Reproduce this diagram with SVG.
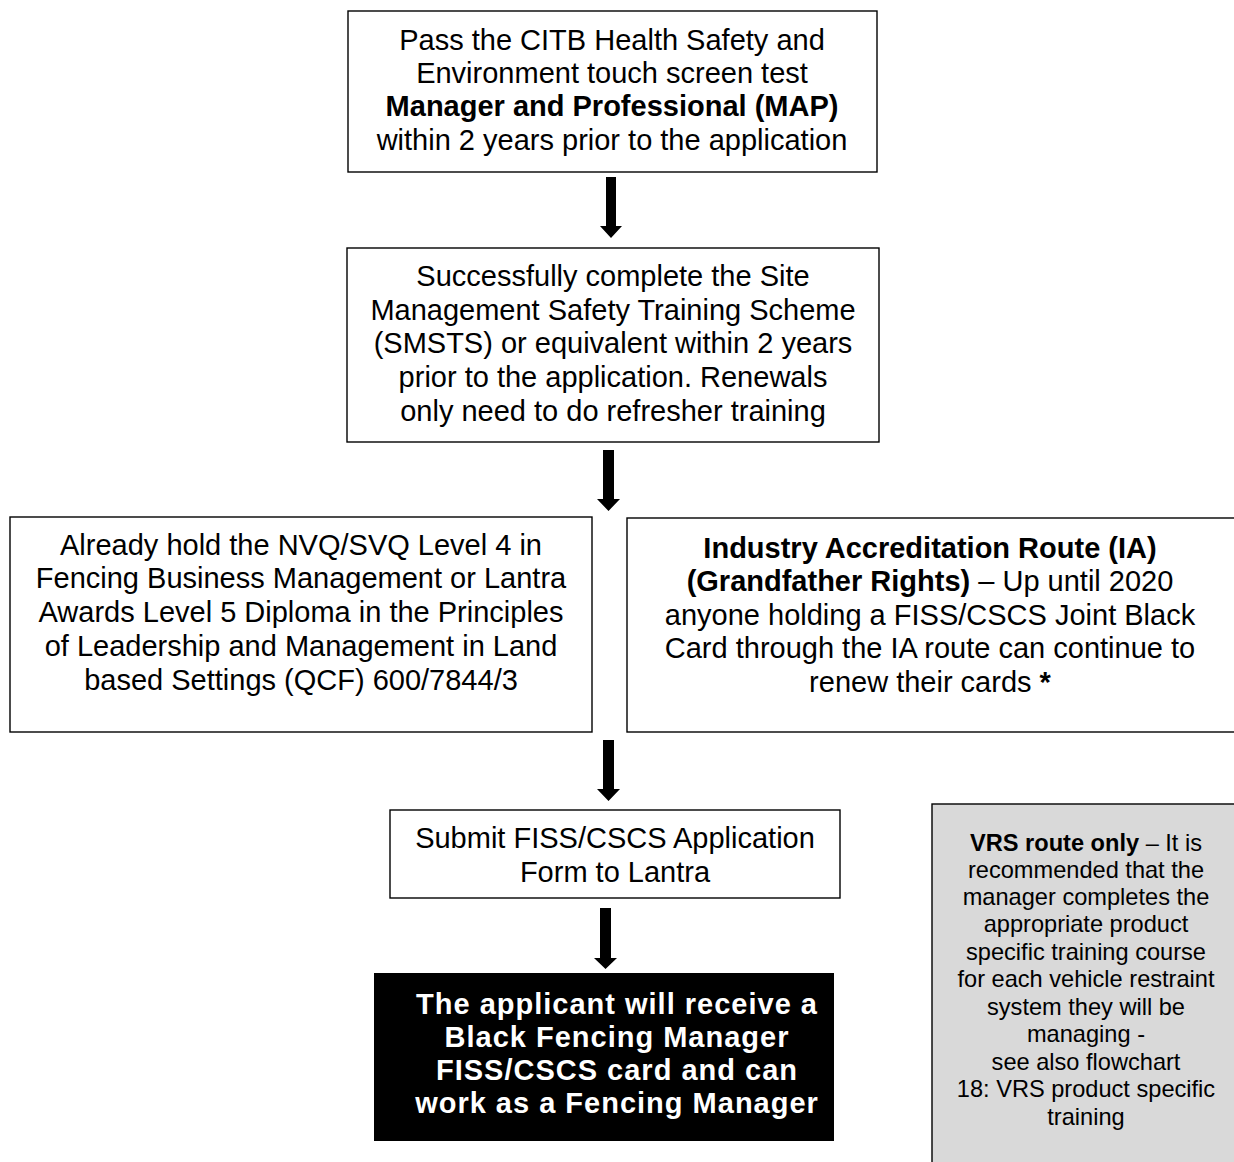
<svg xmlns="http://www.w3.org/2000/svg" width="1234" height="1162" viewBox="0 0 1234 1162">
<style>
.box{fill:#fff;stroke:#000;stroke-width:1.4}
.t{font-family:"Liberation Sans",Arial,sans-serif;font-size:29px;fill:#000;text-anchor:middle}
.w{fill:#fff;font-weight:bold;letter-spacing:1px}
.g{font-size:23.6px}
.b{font-weight:bold}
.arr{fill:#000}
</style>
<rect width="1234" height="1162" fill="#fff"/>
<g id="connectors">
<path class="arr" d="M606 177H616V226H622L611 238L600 226H606Z"/>
<path class="arr" d="M603 450H614V499H620L608.5 511L597 499H603Z"/>
<path class="arr" d="M603 740H614V789H620L608.5 801L597 789H603Z"/>
<path class="arr" d="M600 908H611V958H617L605.5 969L594 958H600Z"/>
</g>
<g id="n1">
<rect class="box" x="348" y="11" width="529" height="161"/>
<text class="t"><tspan x="612" y="50">Pass the CITB Health Safety and</tspan><tspan x="612" y="83">Environment touch screen test</tspan><tspan x="612" y="116" class="b">Manager and Professional (MAP)</tspan><tspan x="612" y="150">within 2 years prior to the application</tspan></text>
</g>
<g id="n2">
<rect class="box" x="347" y="248" width="532" height="194"/>
<text class="t"><tspan x="613" y="286">Successfully complete the Site</tspan><tspan x="613" y="320">Management Safety Training Scheme</tspan><tspan x="613" y="353">(SMSTS) or equivalent within 2 years</tspan><tspan x="613" y="387">prior to the application. Renewals</tspan><tspan x="613" y="421">only need to do refresher training</tspan></text>
</g>
<g id="n3">
<rect class="box" x="10" y="517" width="582" height="215"/>
<text class="t"><tspan x="301" y="555">Already hold the NVQ/SVQ Level 4 in</tspan><tspan x="301" y="588">Fencing Business Management or Lantra</tspan><tspan x="301" y="622">Awards Level 5 Diploma in the Principles</tspan><tspan x="301" y="656">of Leadership and Management in Land</tspan><tspan x="301" y="690">based Settings (QCF) 600/7844/3</tspan></text>
</g>
<g id="n4">
<rect class="box" x="627" y="518" width="620" height="214"/>
<text class="t"><tspan x="930" y="558" class="b">Industry Accreditation Route (IA)</tspan><tspan x="930" y="591"><tspan class="b">(Grandfather Rights)</tspan> – Up until 2020</tspan><tspan x="930" y="625">anyone holding a FISS/CSCS Joint Black</tspan><tspan x="930" y="658">Card through the IA route can continue to</tspan><tspan x="930" y="692">renew their cards <tspan class="b">*</tspan></tspan></text>
</g>
<g id="n5">
<rect class="box" x="390" y="810" width="450" height="88"/>
<text class="t"><tspan x="615" y="848">Submit FISS/CSCS Application</tspan><tspan x="615" y="882">Form to Lantra</tspan></text>
</g>
<g id="n6">
<rect x="374" y="973" width="460" height="168" fill="#000"/>
<text class="t w"><tspan x="617" y="1014">The applicant will receive a</tspan><tspan x="617" y="1047">Black Fencing Manager</tspan><tspan x="617" y="1080">FISS/CSCS card and can</tspan><tspan x="617" y="1113">work as a Fencing Manager</tspan></text>
</g>
<g id="n7">
<rect x="932" y="804" width="320" height="380" fill="#d9d9d9" stroke="#000" stroke-width="1.4"/>
<text class="t g"><tspan x="1086" y="851"><tspan class="b">VRS route only</tspan> – It is</tspan><tspan x="1086" y="878">recommended that the</tspan><tspan x="1086" y="905">manager completes the</tspan><tspan x="1086" y="932">appropriate product</tspan><tspan x="1086" y="960">specific training course</tspan><tspan x="1086" y="987">for each vehicle restraint</tspan><tspan x="1086" y="1015">system they will be</tspan><tspan x="1086" y="1042">managing -</tspan><tspan x="1086" y="1070">see also flowchart</tspan><tspan x="1086" y="1097">18: VRS product specific</tspan><tspan x="1086" y="1125">training</tspan></text>
</g>
</svg>
